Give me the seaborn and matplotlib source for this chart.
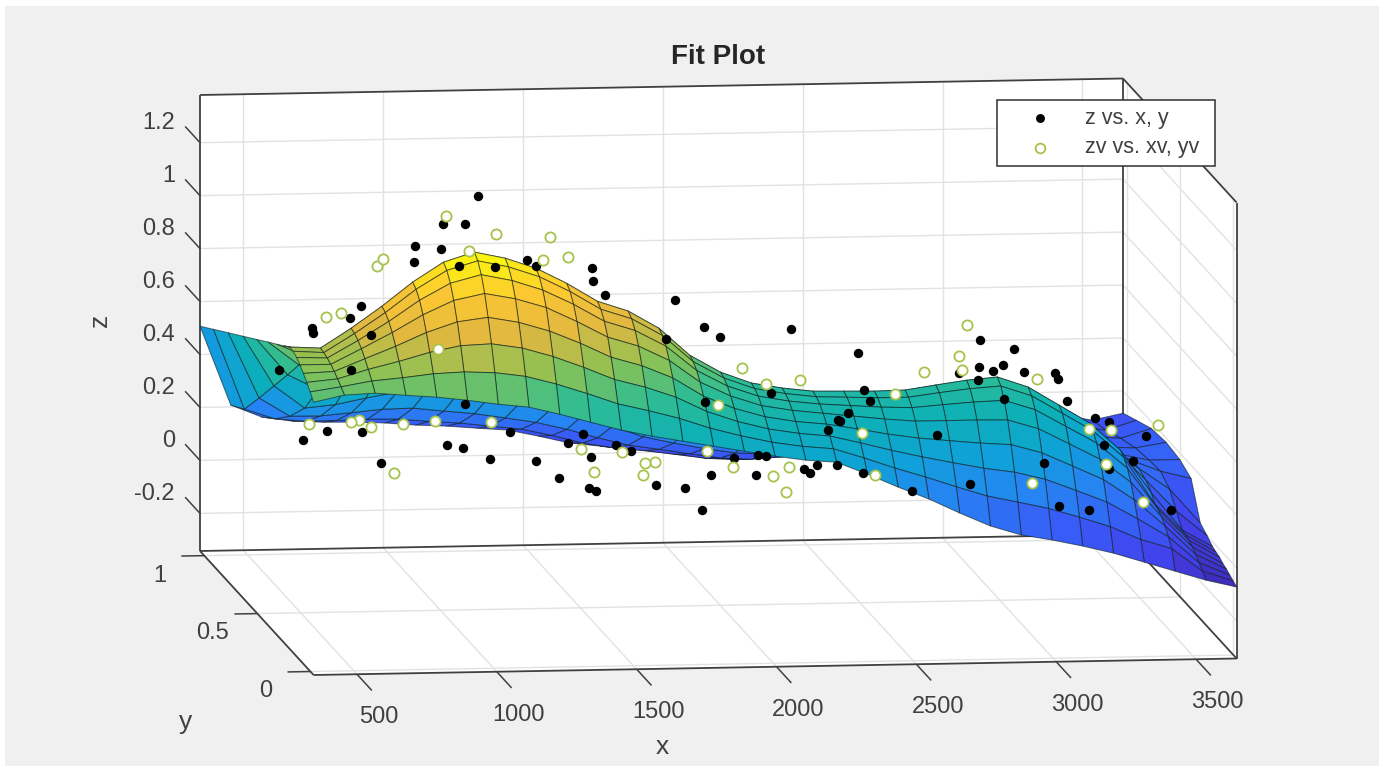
import numpy as np
import matplotlib
matplotlib.use("Agg")
import matplotlib.pyplot as plt
from matplotlib.patches import Rectangle
from mpl_toolkits.mplot3d.art3d import Poly3DCollection
import seaborn as sns

W, H = 1384, 772
x_ticks = [500, 1000, 1500, 2000, 2500, 3000, 3500]
y_ticks = [0, 0.5, 1]
z_ticks = [-0.2, 0, 0.2, 0.4, 0.6, 0.8, 1, 1.2]
z_tick_labels = ["-0.2", "0", "0.2", "0.4", "0.6", "0.8", "1", "1.2"]
xlim = (345, 3645)
ylim = (-0.03, 1.04)
zlim = (-0.342, 1.38)

x_grid = [345 + 110 * i for i in range(31)]
y_grid = [1.04, 0.912, 0.773, 0.633, 0.505, 0.398, 0.312, 0.248, 0.195,
          0.163, 0.13, 0.098, 0.066, 0.034, 0.002, -0.03]
z_surface = [
 [.507,.551,.599,.647,.691,.728,.757,.779,.798,.796,.787,.773,.755,.735,.713,.688],
 [.207,.248,.351,.458,.556,.640,.708,.754,.792,.789,.783,.773,.760,.746,.730,.713],
 [.160,.209,.280,.372,.498,.604,.710,.802,.865,.859,.847,.830,.806,.780,.750,.718],
 [.142,.198,.279,.383,.528,.649,.769,.874,.946,.936,.917,.889,.851,.808,.760,.708],
 [.136,.199,.289,.406,.568,.702,.837,.954,1.035,1.022,.995,.954,.901,.840,.773,.699],
 [.134,.202,.300,.426,.602,.748,.894,1.020,1.108,1.091,1.057,1.006,.939,.863,.778,.685],
 [.129,.200,.302,.434,.616,.768,.921,1.053,1.144,1.125,1.087,1.030,.954,.868,.773,.668],
 [.119,.189,.289,.419,.599,.749,.899,1.029,1.119,1.100,1.063,1.008,.933,.850,.757,.655],
 [.113,.181,.277,.403,.577,.722,.866,.992,1.079,1.061,1.025,.973,.898,.816,.726,.626],
 [.103,.167,.259,.378,.543,.681,.818,.937,1.020,1.003,.969,.918,.850,.773,.688,.594],
 [.094,.154,.240,.351,.505,.633,.762,.873,.950,.934,.903,.857,.795,.725,.647,.562],
 [.069,.128,.212,.322,.473,.599,.726,.835,.911,.896,.866,.821,.761,.694,.619,.537],
 [.041,.097,.178,.282,.426,.547,.667,.772,.844,.831,.805,.765,.713,.654,.588,.516],
 [.027,.077,.148,.241,.369,.476,.583,.676,.740,.730,.711,.681,.642,.598,.549,.495],
 [.018,.064,.130,.215,.333,.431,.530,.615,.674,.666,.650,.626,.594,.558,.518,.474],
 [.004,.048,.111,.192,.305,.399,.493,.575,.631,.624,.610,.588,.560,.528,.492,.453],
 [-.013,.031,.093,.174,.286,.380,.473,.554,.610,.603,.589,.568,.540,.509,.474,.436],
 [-.019,.024,.086,.166,.276,.369,.461,.541,.596,.589,.576,.555,.528,.497,.463,.426],
 [-.010,.032,.093,.171,.280,.371,.461,.540,.594,.585,.568,.542,.508,.469,.426,.379],
 [.037,.076,.131,.204,.303,.387,.470,.542,.592,.581,.560,.529,.486,.439,.386,.328],
 [.092,.127,.177,.243,.333,.408,.484,.549,.594,.581,.556,.519,.469,.412,.350,.281],
 [.203,.232,.272,.325,.399,.460,.521,.574,.611,.596,.565,.519,.457,.388,.311,.226],
 [.182,.213,.258,.316,.396,.462,.529,.587,.627,.609,.573,.519,.446,.365,.274,.175],
 [.180,.212,.258,.317,.399,.468,.536,.596,.637,.617,.577,.517,.438,.348,.249,.139],
 [.177,.206,.248,.303,.379,.442,.505,.559,.597,.578,.540,.482,.405,.319,.223,.118],
 [.175,.200,.235,.281,.344,.397,.450,.495,.527,.510,.475,.423,.353,.275,.188,.093],
 [.155,.176,.206,.246,.300,.345,.391,.430,.457,.441,.410,.363,.300,.229,.150,.064],
 [.134,.149,.171,.199,.239,.271,.304,.332,.352,.339,.313,.274,.222,.164,.099,.028],
 [.113,.125,.150,.170,.200,.225,.230,.215,.190,.162,.155,.142,.121,.094,.063,-.008],
 [.092,.110,.140,.165,.175,.180,.150,.095,.047,.043,.036,.025,.011,-.006,-.024,-.044],
 [.116,.145,.175,.184,.175,.150,.020,.000,-.019,-.025,-.030,-.040,-.046,-.055,-.063,-.072],
]

fit_x = [1136,1011,1089,911,1004,907,1068,1197,718,678,542,546,753,424,682,1089,1250,596,510,721,
         1025,1082,789,1179,1311,1343,1543,1547,1590,1840,1944,2001,2255,1808,1947,2183,2387,1511,
         1458,1629,1683,1540,1343,1425,1533,1558,1772,1876,1969,2130,2051,2137,2165,2301,2323,2348,
         2419,2423,1937,2494,2931,3052,3013,2927,2977,2855,3088,3199,3209,2923,3242,2516,2537,2459,
         2430,2777,3342,3392,3524,3374,3477,3159,3392,2895,3213,3320,3613,3016,2512,2687]
fit_z = [1.216,1.113,1.112,1.032,1.019,.971,.953,.947,.809,.765,.729,.710,.699,.574,.569,.432,.324,
         .339,.307,.334,.279,.266,.216,.223,.972,.948,.937,.888,.835,.811,.707,.668,.693,.664,.424,
         .453,.309,.311,.278,.268,.244,.223,.212,.147,.107,.095,.114,.100,.147,.144,.211,.220,.216,
         .164,.149,.178,.177,.347,.016,.598,.639,.603,.543,.537,.521,.516,.515,.509,.487,.488,.403,
         .458,.417,.372,.343,.283,.336,.320,.266,.235,.172,.171,.143,.096,.007,-.010,-.016,.415,.145,.074]
val_x = [796,775,1200,1021,1104,592,646,532,682,710,753,868,982,1182,993,836,1368,1458,1393,1504,
         1651,1551,1733,1769,1726,1955,2048,2080,2166,2287,1994,2190,2248,2237,2884,2855,2866,2730,
         3134,2627,2509,2555,3320,3399,3567,3381,3116,3513]
val_z = [.988,.959,1.072,1.143,1.010,.773,.784,.367,.372,.379,.352,.361,.370,.362,.642,.177,.971,.980,
         1.057,.254,.240,.167,.198,.200,.152,.239,.177,.549,.488,.500,.412,.140,.173,.078,.696,.580,
         .527,.522,.488,.441,.296,.136,.296,.290,.306,.163,.096,.016]
point_y = 0.505

parula = [(.24,.15,.66),(.26,.25,.92),(.22,.36,.97),(.15,.52,.95),(.06,.63,.85),(.05,.69,.72),
          (.18,.74,.58),(.55,.76,.33),(.88,.72,.25),(.99,.78,.20),(.98,.98,.05)]
z_color_range = (-0.09, 1.14)
INK = "#404040"
GRID = "#e2e2e2"

sns.set_theme(style="white")
plt.rcParams["font.family"] = ["Liberation Sans", "DejaVu Sans"]
cmap = sns.blend_palette(parula, as_cmap=True)

fig = plt.figure(figsize=(W / 100, H / 100), dpi=100, facecolor="white")
fig.add_artist(Rectangle((5 / W, 6 / H), 1374 / W, 760 / H, transform=fig.transFigure,
                         facecolor="#f0f0f0", edgecolor="none", zorder=-5))
ax = fig.add_axes([0, 0, 1, 1], projection="3d", computed_zorder=False)
ax.apply_aspect = lambda position=None: None
ax.set_autoscale_on(False)
ax.set_proj_type("ortho")
ax.set_xlim(xlim); ax.set_ylim(ylim); ax.set_zlim(zlim)
ax.set_axis_off()
ax.patch.set_visible(False)

dx, dy, dz = xlim[1] - xlim[0], ylim[1] - ylim[0], zlim[1] - zlim[0]
U = np.array([1 / dx, 0, 0, -xlim[0] / dx])
V = np.array([0, -1 / dy, 0, ylim[1] / dy])
Wz = np.array([0, 0, 1 / dz, -zlim[0] / dz])
ONE = np.array([0, 0, 0, 1.0])
P_x = 200 * ONE + 923 * U + 113.6 * V
P_y = 551 * ONE - 16.5 * U + 124 * V - 456 * Wz


def fitted_view():
    # orthographic view fitted to the box corners of the picture
    inv = ax.transData.inverted()
    (vx0, vy0), (vx1, vy1) = inv.transform([(0, 0), (W, H)])
    return np.array([
        vx0 * ONE + (vx1 - vx0) / W * P_x,
        vy0 * ONE + (vy1 - vy0) * (ONE - P_y / H),
        0.12 * U + (ONE - V) - 0.25 * Wz,
        ONE,
    ])


ax.get_proj = fitted_view

x0, x1 = xlim; y0, y1 = ylim; z0, z1 = zlim
walls = [[(x0, y1, z0), (x1, y1, z0), (x1, y1, z1), (x0, y1, z1)],
         [(x1, y0, z0), (x1, y1, z0), (x1, y1, z1), (x1, y0, z1)],
         [(x0, y0, z0), (x1, y0, z0), (x1, y1, z0), (x0, y1, z0)]]
ax.add_collection3d(Poly3DCollection(walls, facecolors="white", edgecolors="none", zorder=0), autolim=False)


def line(xs, ys, zs, color=GRID, lw=1.0, zo=1):
    ax.plot(xs, ys, zs, color=color, lw=lw, zorder=zo, solid_capstyle="butt")


for t in x_ticks:
    line([t, t], [y1, y1], [z0, z1])
    line([t, t], [y0, y1], [z0, z0])
    line([t, t], [y0, y0 - 0.14], [z0, z0], INK, 1.1, 2)
    ax.text(t - 64, y0 - 0.37, z0, str(t), ha="center", va="center", fontsize=17, color=INK)
for t in y_ticks:
    line([x0, x1], [t, t], [z0, z0])
    line([x1, x1], [t, t], [z0, z1])
    line([x0, x0 - 82], [t, t], [z0, z0], INK, 1.1, 2)
    ax.text(x0 - 160, t, z0 - 0.072, f"{t:g}", ha="center", va="center", fontsize=17, color=INK)
for t, lab in zip(z_ticks, z_tick_labels):
    line([x0, x1], [y1, y1], [t, t])
    line([x1, x1], [y0, y1], [t, t])
    line([x0, x0], [y1, y1 + 0.14], [t, t], INK, 1.1, 2)
    ax.text(x0 - 25, y1 + 0.17, t, lab, ha="right", va="center", fontsize=17, color=INK)

for seg in [([x0, x1], [y1, y1], [z0, z0]), ([x0, x1], [y1, y1], [z1, z1]),
            ([x0, x0], [y1, y1], [z0, z1]), ([x1, x1], [y1, y1], [z0, z1]),
            ([x1, x1], [y0, y1], [z1, z1]), ([x1, x1], [y0, y0], [z0, z1]),
            ([x1, x1], [y0, y1], [z0, z0]), ([x0, x0], [y0, y1], [z0, z0]),
            ([x0, x1], [y0, y0], [z0, z0])]:
    line(*seg, color=INK, lw=1.3, zo=2)

X, Y = np.meshgrid(x_grid, y_grid, indexing="ij")
Z = np.array(z_surface)
Zf = (Z[:-1, :-1] + Z[1:, :-1] + Z[:-1, 1:] + Z[1:, 1:]) / 4
colors = cmap((Zf - z_color_range[0]) / (z_color_range[1] - z_color_range[0]))
surf = ax.plot_surface(X, Y, Z, facecolors=colors, rstride=1, cstride=1, shade=False,
                       linewidth=0.7, antialiased=True, zorder=3)
surf.set_edgecolor((0.05, 0.1, 0.1, 0.6))

p1 = ax.scatter(fit_x, [point_y] * len(fit_x), fit_z, c="black", s=46, linewidths=0,
                depthshade=False, zorder=4, label="z vs. x, y")
p2 = ax.scatter(val_x, [point_y] * len(val_x), val_z, facecolors="white", edgecolors="#a6c34c", s=54,
                linewidths=1.3, depthshade=False, zorder=5, label="zv vs. xv, yv")

leg = ax.legend(handles=[p1, p2], loc="lower left",
                bbox_to_anchor=(997 / W, (H - 166) / H, 218 / W, 66 / H), bbox_transform=fig.transFigure,
                mode="expand", borderaxespad=0, fontsize=15.5, fancybox=False, framealpha=1,
                edgecolor="#303030", facecolor="white", handletextpad=0.46, handlelength=3.3,
                labelspacing=0.4, borderpad=0.35, labelcolor=INK, markerscale=0.95)
leg.get_frame().set_linewidth(1.1)
leg.set_zorder(10)


def label(px, py, text, **kw):
    fig.text(px / W, 1 - py / H, text, ha="center", va="center", **kw)


label(718, 57, "Fit Plot", fontsize=20, fontweight="bold", color="#262626")
label(662, 747, "x", fontsize=19, color=INK)
label(186, 722, "y", fontsize=19, color=INK)
label(100, 320, "z", fontsize=19, color=INK, rotation=90)

fig.savefig("out.png", dpi=100, facecolor=fig.get_facecolor())
